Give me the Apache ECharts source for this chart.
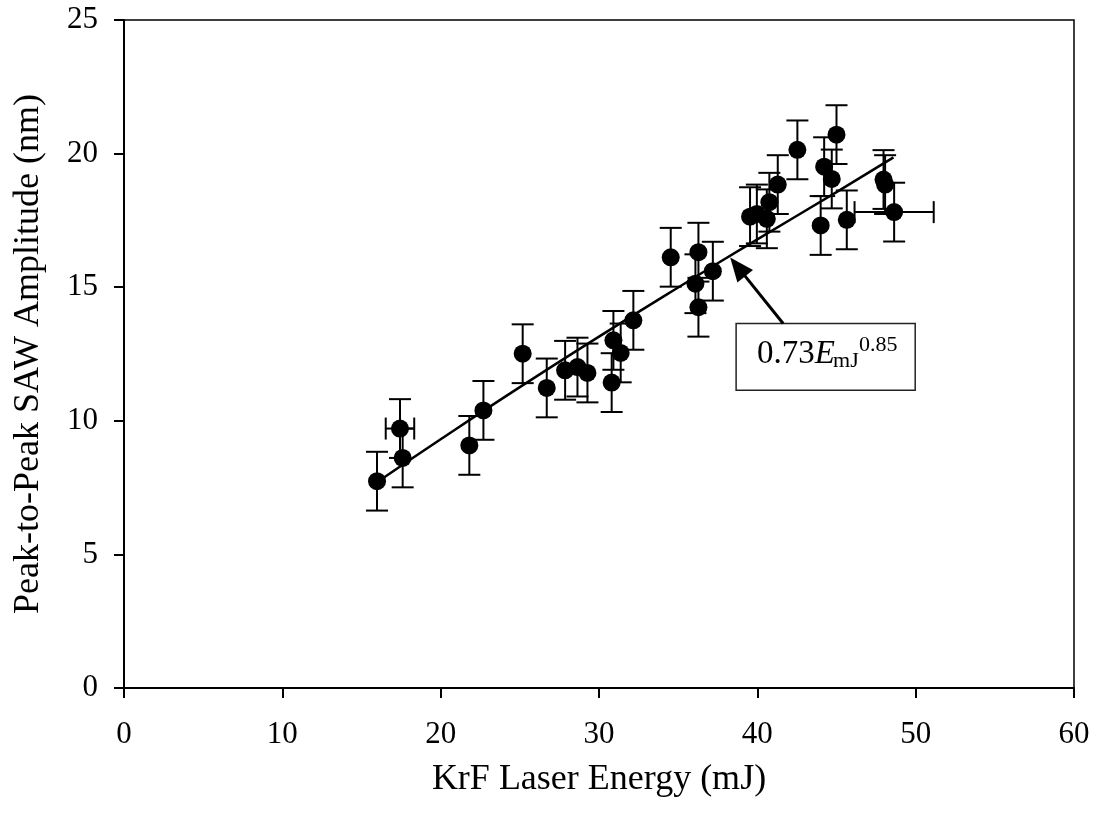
<!DOCTYPE html>
<html>
<head>
<meta charset="utf-8">
<script src="https://cdn.jsdelivr.net/npm/echarts@6/dist/echarts.min.js"></script>
<style>
  html, body { margin: 0; padding: 0; background: #fff; }
  #chart { width: 1099px; height: 815px; }
</style>
</head>
<body>
<div id="chart"></div>
<script>
// KrF laser energy (mJ) and measured peak-to-peak SAW amplitude (nm)
const energy = [15.98, 17.43, 17.6, 21.81, 22.7, 25.18, 26.7, 27.86, 28.64, 29.27, 30.8, 30.91, 31.37,
  32.17, 34.53, 36.09, 36.28, 36.28, 37.19, 39.54, 39.97, 40.6, 40.76, 41.29, 42.53, 44.0, 44.22,
  44.7, 45.0, 45.65, 47.97, 48.07, 48.64];
const amplitude = [7.74, 9.71, 8.61, 9.08, 10.39, 12.51, 11.23, 11.89, 12.01, 11.79, 11.43, 13.01, 12.54,
  13.76, 16.12, 15.13, 16.31, 14.25, 15.6, 17.64, 17.74, 17.56, 18.18, 18.84, 20.14, 17.31, 19.51,
  19.05, 20.71, 17.52, 19.03, 18.84, 17.81];
// Uncertainty of each amplitude (nm)
const amplitudeErr = [1.1, 1.1, 1.1, 1.1, 1.1, 1.1, 1.1, 1.1, 1.1, 1.1, 1.1, 1.1, 1.1,
  1.1, 1.1, 1.1, 1.1, 1.1, 1.1, 1.1, 1.1, 1.1, 1.1, 1.1, 1.1, 1.1, 1.1,
  1.1, 1.1, 1.1, 1.1, 1.1, 1.1];
// Uncertainty of each energy (mJ); zero where no horizontal bar is drawn
const energyErr = [0, 0.9, 0, 0, 0, 0, 0, 0, 0, 0, 0, 0, 0,
  0, 0, 0, 0, 0, 0, 0, 0, 0, 0, 0, 0, 0, 0,
  0, 0, 0, 0, 0, 2.5];

// Power-law fit curve, 0.73 E^0.85
const fitEnergy = [16, 20, 25, 30, 35, 40, 45, 48.6];
const fitAmplitude = [7.71, 9.31, 11.26, 13.15, 14.99, 16.79, 18.56, 19.86];

// Axis ticks
const xTicks = [0, 10, 20, 30, 40, 50, 60];
const yTicks = [0, 5, 10, 15, 20, 25];

// Fit label box corners and arrow end points, in data units
const boxTopLeft = [38.66, 13.64];
const boxBottomRight = [49.97, 11.14];
const arrowTail = [41.63, 13.64];
const arrowHead = [38.76, 15.76];

const FONT = '"Liberation Serif", "Times New Roman", serif';

const points = energy.map((e, i) => [e, amplitude[i]]);
const errData = energy.map((e, i) => [e, amplitude[i], amplitudeErr[i], energyErr[i]]);
const fitData = fitEnergy.map((e, i) => [e, fitAmplitude[i]]);

const chart = echarts.init(document.getElementById('chart'), null, { renderer: 'canvas' });

const axisCommon = {
  axisLine: { show: true, onZero: false, lineStyle: { color: '#000', width: 2 } },
  axisTick: { show: true, inside: false, length: 10, lineStyle: { color: '#000', width: 2 } },
  splitLine: { show: false },
  axisLabel: { color: '#000', fontFamily: FONT, fontSize: 31 },
  nameTextStyle: { color: '#000', fontFamily: FONT, fontSize: 36 },
  nameLocation: 'middle'
};

chart.setOption({
  animation: false,
  backgroundColor: '#fff',
  grid: { left: 124, right: 25, top: 20, bottom: 127, show: true, borderColor: '#000', borderWidth: 1.5 },
  xAxis: Object.assign({}, axisCommon, {
    type: 'value', min: xTicks[0], max: xTicks[xTicks.length - 1], interval: 10,
    name: 'KrF Laser Energy (mJ)', nameGap: 74,
    axisLabel: Object.assign({}, axisCommon.axisLabel, { margin: 31 })
  }),
  yAxis: Object.assign({}, axisCommon, {
    type: 'value', min: yTicks[0], max: yTicks[yTicks.length - 1], interval: 5,
    name: 'Peak-to-Peak SAW Amplitude (nm)', nameGap: 77,
    axisLabel: Object.assign({}, axisCommon.axisLabel, { margin: 26 })
  }),
  series: [
    {
      type: 'custom',
      name: 'error bars',
      data: errData,
      encode: { x: 0, y: 1 },
      silent: true,
      z: 2,
      renderItem(params, api) {
        const x = api.value(0), y = api.value(1), ey = api.value(2), ex = api.value(3);
        const top = api.coord([x, y + ey]);
        const bot = api.coord([x, y - ey]);
        const cap = 11;
        const style = { stroke: '#000', lineWidth: 2, fill: null };
        const children = [
          { type: 'line', shape: { x1: top[0], y1: top[1], x2: bot[0], y2: bot[1] }, style },
          { type: 'line', shape: { x1: top[0] - cap, y1: top[1], x2: top[0] + cap, y2: top[1] }, style },
          { type: 'line', shape: { x1: bot[0] - cap, y1: bot[1], x2: bot[0] + cap, y2: bot[1] }, style }
        ];
        if (ex > 0) {
          const l = api.coord([x - ex, y]);
          const r = api.coord([x + ex, y]);
          children.push(
            { type: 'line', shape: { x1: l[0], y1: l[1], x2: r[0], y2: r[1] }, style },
            { type: 'line', shape: { x1: l[0], y1: l[1] - cap, x2: l[0], y2: l[1] + cap }, style },
            { type: 'line', shape: { x1: r[0], y1: r[1] - cap, x2: r[0], y2: r[1] + cap }, style }
          );
        }
        return { type: 'group', children };
      }
    },
    {
      type: 'line',
      name: 'fit',
      data: fitData,
      smooth: true,
      showSymbol: false,
      symbol: 'none',
      lineStyle: { color: '#000', width: 2.5 },
      silent: true,
      z: 3,
      markLine: {
        silent: true,
        animation: false,
        label: { show: false },
        lineStyle: { color: '#000', width: 3, type: 'solid' },
        symbolSize: [20, 24],
        data: [[
          { coord: arrowTail, symbol: 'none' },
          { coord: arrowHead, symbol: 'triangle' }
        ]]
      }
    },
    {
      type: 'scatter',
      name: 'data',
      data: points,
      symbol: 'circle',
      symbolSize: 18,
      itemStyle: { color: '#000', opacity: 1 },
      silent: true,
      z: 4
    }
  ]
});

// Label box holding the fit expression
const tl = chart.convertToPixel({ gridIndex: 0 }, boxTopLeft);
const br = chart.convertToPixel({ gridIndex: 0 }, boxBottomRight);
chart.setOption({
  graphic: [{
    type: 'group',
    x: tl[0],
    y: tl[1],
    z: 10,
    children: [
      {
        type: 'rect',
        shape: { x: 0, y: 0, width: br[0] - tl[0], height: br[1] - tl[1] },
        style: { fill: '#fff', stroke: '#222', lineWidth: 1.5 }
      },
      {
        type: 'text',
        x: 21, y: 31,
        style: {
          text: '{n|0.73}{e|E}',
          align: 'left', verticalAlign: 'middle',
          rich: {
            n: { fontFamily: FONT, fontSize: 33, fill: '#000' },
            e: { fontFamily: FONT, fontSize: 33, fontStyle: 'italic', fill: '#000' }
          }
        }
      },
      {
        type: 'text',
        x: 97, y: 38,
        style: { text: 'mJ', font: '22px ' + FONT, fill: '#000', align: 'left', verticalAlign: 'middle' }
      },
      {
        type: 'text',
        x: 123, y: 22,
        style: { text: '0.85', font: '22px ' + FONT, fill: '#000', align: 'left', verticalAlign: 'middle' }
      }
    ]
  }]
});
</script>
</body>
</html>
